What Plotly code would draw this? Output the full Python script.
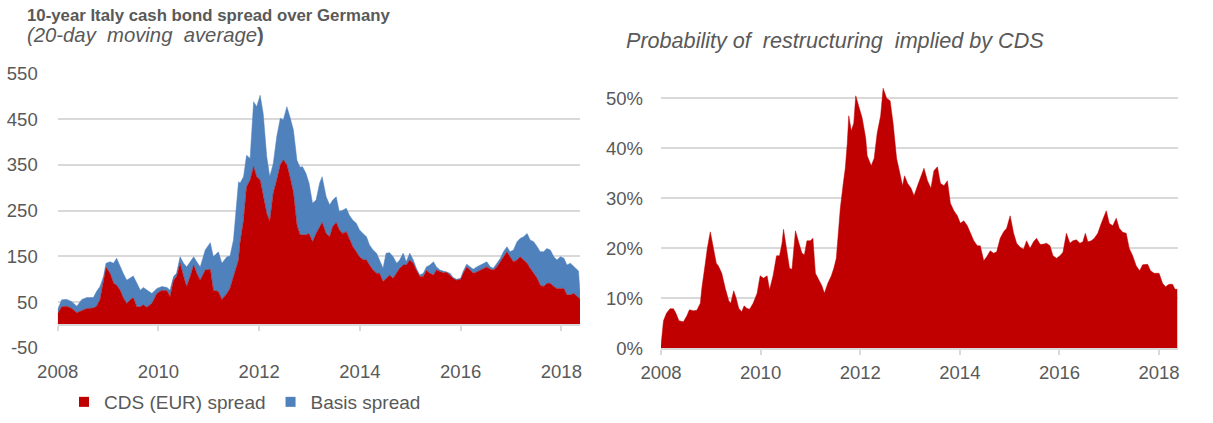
import plotly.graph_objects as go

# ---------------- Data ----------------
spread_years = [
    2008.00, 2008.08, 2008.18, 2008.28, 2008.38, 2008.48, 2008.58, 2008.71, 2008.77, 2008.84,
    2008.91, 2008.96, 2009.04, 2009.11, 2009.17, 2009.24, 2009.30, 2009.37, 2009.44, 2009.50,
    2009.57, 2009.64, 2009.70, 2009.77, 2009.87, 2009.97, 2010.07, 2010.17, 2010.23, 2010.30,
    2010.36, 2010.43, 2010.50, 2010.56, 2010.63, 2010.70, 2010.76, 2010.83, 2010.93, 2011.03,
    2011.09, 2011.19, 2011.26, 2011.36, 2011.42, 2011.49, 2011.59, 2011.62, 2011.69, 2011.75,
    2011.82, 2011.89, 2011.95, 2012.02, 2012.08, 2012.15, 2012.21, 2012.28, 2012.35, 2012.42,
    2012.48, 2012.55, 2012.61, 2012.68, 2012.75, 2012.81, 2012.86, 2012.93, 2012.99, 2013.06,
    2013.13, 2013.20, 2013.25, 2013.33, 2013.40, 2013.46, 2013.53, 2013.59, 2013.66, 2013.73,
    2013.79, 2013.86, 2013.93, 2013.99, 2014.06, 2014.13, 2014.19, 2014.26, 2014.33, 2014.39,
    2014.46, 2014.52, 2014.59, 2014.66, 2014.73, 2014.79, 2014.86, 2014.92, 2014.99, 2015.06,
    2015.12, 2015.19, 2015.26, 2015.32, 2015.39, 2015.46, 2015.52, 2015.59, 2015.65, 2015.72,
    2015.79, 2015.85, 2015.92, 2016.00, 2016.05, 2016.12, 2016.19, 2016.25, 2016.32, 2016.39,
    2016.46, 2016.52, 2016.59, 2016.65, 2016.72, 2016.79, 2016.85, 2016.92, 2016.98, 2017.05,
    2017.12, 2017.18, 2017.25, 2017.32, 2017.38, 2017.45, 2017.52, 2017.58, 2017.65, 2017.71,
    2017.78, 2017.85, 2017.91, 2017.98, 2018.05, 2018.11, 2018.18, 2018.25, 2018.31, 2018.34,
    2018.37,
]
cds_spread = [
    25, 40, 41, 36, 27, 31, 36, 37, 41, 55,
    95, 126, 113, 91, 87, 76, 60, 47, 55, 60,
    40, 40, 44, 39, 47, 69, 76, 75, 62, 98,
    106, 135, 106, 84, 106, 131, 113, 98, 120, 122,
    76, 73, 56, 69, 80, 106, 142, 178, 229, 302,
    317, 346, 324, 317, 280, 244, 226, 288, 317, 350,
    361, 350, 324, 290, 218, 198, 197, 197, 200, 182,
    200, 215, 224, 200, 193, 215, 224, 208, 200, 204,
    189, 171, 160, 149, 143, 142, 131, 120, 113, 113,
    95, 102, 109, 102, 113, 124, 131, 131, 142, 135,
    120, 106, 106, 119, 113, 109, 120, 116, 114, 116,
    109, 102, 98, 100, 113, 127, 120, 113, 116, 120,
    124, 127, 122, 120, 127, 138, 149, 160, 149, 138,
    142, 149, 142, 135, 124, 113, 102, 87, 84, 91,
    91, 84, 80, 80, 80, 66, 66, 69, 62, 60,
    57,
]
basis_spread = [
    9, 15, 15, 15, 14, 25, 24, 23, 32, 29,
    11, 9, 25, 44, 59, 51, 53, 51, 47, 47,
    52, 36, 38, 37, 22, 11, 8, 7, 14, 8,
    7, 14, 29, 43, 32, 18, 25, 29, 44, 58,
    73, 87, 79, 80, 70, 80, 171, 132, 95, 69,
    47, 142, 153, 185, 182, 124, 98, 65, 95, 102,
    87, 127, 131, 136, 142, 147, 149, 134, 110, 84,
    73, 95, 100, 80, 69, 58, 56, 40, 51, 51,
    51, 58, 62, 59, 57, 51, 44, 44, 44, 29,
    29, 55, 49, 47, 22, 18, 26, 7, 15, 7,
    4, 3, 7, 8, 18, 29, 7, 4, 4, 1,
    4, 2, 2, 2, 4, 6, 7, 9, 11, 11,
    11, 11, 5, 4, 8, 8, 11, 11, 11, 26,
    40, 40, 51, 65, 62, 69, 69, 73, 76, 76,
    73, 65, 62, 69, 66, 65, 69, 58, 58, 58,
    15,
]

prob_years = [
    2008.00, 2008.05, 2008.11, 2008.18, 2008.25, 2008.30, 2008.36, 2008.45, 2008.52, 2008.57,
    2008.65, 2008.72, 2008.79, 2008.82, 2008.89, 2008.93, 2008.99, 2009.05, 2009.11, 2009.15,
    2009.22, 2009.29, 2009.36, 2009.40, 2009.46, 2009.51, 2009.56, 2009.62, 2009.67, 2009.72,
    2009.78, 2009.85, 2009.93, 2009.99, 2010.06, 2010.13, 2010.18, 2010.25, 2010.32, 2010.38,
    2010.43, 2010.46, 2010.53, 2010.58, 2010.63, 2010.70, 2010.77, 2010.83, 2010.88, 2010.93,
    2011.00, 2011.05, 2011.10, 2011.17, 2011.23, 2011.28, 2011.35, 2011.42, 2011.47, 2011.52,
    2011.57, 2011.60, 2011.66, 2011.70, 2011.74, 2011.77, 2011.82, 2011.87, 2011.91, 2011.97,
    2012.04, 2012.11, 2012.14, 2012.22, 2012.28, 2012.34, 2012.41, 2012.46, 2012.53, 2012.60,
    2012.66, 2012.73, 2012.78, 2012.85, 2012.89, 2012.95, 2013.02, 2013.08, 2013.15, 2013.22,
    2013.28, 2013.35, 2013.42, 2013.48, 2013.55, 2013.61, 2013.68, 2013.75, 2013.81, 2013.88,
    2013.95, 2014.01, 2014.08, 2014.15, 2014.21, 2014.28, 2014.35, 2014.41, 2014.48, 2014.54,
    2014.61, 2014.68, 2014.74, 2014.81, 2014.88, 2014.94, 2015.01, 2015.08, 2015.14, 2015.21,
    2015.28, 2015.34, 2015.41, 2015.48, 2015.54, 2015.61, 2015.67, 2015.74, 2015.81, 2015.87,
    2015.94, 2016.01, 2016.07, 2016.14, 2016.21, 2016.27, 2016.34, 2016.41, 2016.47, 2016.52,
    2016.57, 2016.64, 2016.70, 2016.77, 2016.84, 2016.90, 2016.94, 2017.00, 2017.07, 2017.14,
    2017.20, 2017.27, 2017.34, 2017.40, 2017.47, 2017.54, 2017.61, 2017.67, 2017.77, 2017.83,
    2017.90, 2018.00, 2018.07, 2018.13, 2018.20, 2018.27, 2018.32, 2018.37,
]
prob_restructuring = [
    0.5, 5.5, 7.0, 7.9, 7.9, 7.0, 5.5, 5.3, 6.5, 7.7,
    7.5, 7.6, 9.0, 12.0, 17.0, 20.0, 23.3, 20.5, 17.0, 16.5,
    15.0, 12.0, 9.5, 9.0, 11.5, 10.0, 8.0, 7.3, 8.5, 8.0,
    7.8, 9.0, 11.0, 14.5, 14.0, 14.5, 11.7, 14.5, 18.5, 18.5,
    21.0, 23.8, 19.0, 16.0, 15.8, 23.5, 21.0, 19.0, 18.7, 21.5,
    21.5, 22.0, 15.0, 13.5, 12.5, 11.0, 13.0, 14.5, 16.0, 18.0,
    24.0, 28.0, 33.0, 36.0, 41.0, 46.5, 43.5, 45.0, 50.5, 48.5,
    46.0, 42.0, 38.5, 36.5, 38.0, 43.0, 46.5, 52.0, 50.0, 49.5,
    45.0, 38.0, 35.5, 32.5, 34.5, 33.0, 32.0, 30.5, 32.5, 34.5,
    36.0, 33.5, 32.0, 35.5, 36.3, 33.0, 32.5, 33.5, 29.0, 27.5,
    26.5, 25.0, 25.5, 24.5, 23.0, 21.5, 20.5, 20.5, 17.5, 18.3,
    19.5, 19.0, 19.3, 22.0, 23.3, 24.0, 26.5, 23.0, 21.0, 20.2,
    19.8, 21.5, 20.0, 21.3, 22.0, 20.8, 20.8, 21.0, 20.5, 18.5,
    18.0, 18.5, 19.2, 23.0, 21.0, 21.5, 21.7, 21.0, 21.3, 23.0,
    21.3, 21.5, 22.0, 23.0, 25.0, 26.7, 27.5, 25.0, 24.5, 26.0,
    24.0, 23.2, 23.0, 20.0, 18.5, 16.5, 15.5, 16.7, 16.8, 15.5,
    15.0, 15.0, 13.0, 12.3, 12.8, 12.8, 11.8, 11.8,
]

year_ticks = [2008, 2010, 2012, 2014, 2016, 2018]
year_labels = ["2008", "2010", "2012", "2014", "2016", "2018"]
spread_ticks = [-50, 50, 150, 250, 350, 450, 550]
spread_labels = ["-50", "50", "150", "250", "350", "450", "550"]
prob_ticks = [0, 10, 20, 30, 40, 50]
prob_labels = ["0%", "10%", "20%", "30%", "40%", "50%"]

# ---------------- Styling ----------------
RED = "#C00000"
BLUE = "#4F81BD"
GREY_TXT = "#595959"
GRID = "#D9D9D9"
FONT = "Liberation Sans, Arial, sans-serif"
W, H = 1213, 423

fig = go.Figure()

fig.add_trace(go.Scatter(
    x=spread_years, y=cds_spread, name="CDS (EUR) spread",
    stackgroup="spread", mode="lines", line=dict(width=0.5, color=RED),
    fillcolor=RED, xaxis="x", yaxis="y", showlegend=False,
))
fig.add_trace(go.Scatter(
    x=spread_years, y=basis_spread, name="Basis spread",
    stackgroup="spread", mode="lines", line=dict(width=0.5, color=BLUE),
    fillcolor=BLUE, xaxis="x", yaxis="y", showlegend=False,
))
fig.add_trace(go.Scatter(
    x=prob_years, y=prob_restructuring, name="Probability of restructuring",
    mode="lines", fill="tozeroy", line=dict(width=0.5, color=RED),
    fillcolor=RED, xaxis="x2", yaxis="y2", showlegend=False,
))
# legend entries
fig.add_trace(go.Scatter(x=[None], y=[None], mode="markers", name="CDS (EUR) spread",
                         marker=dict(symbol="square", size=10, color=RED),
                         xaxis="x", yaxis="y"))
fig.add_trace(go.Scatter(x=[None], y=[None], mode="markers", name="Basis spread",
                         marker=dict(symbol="square", size=10, color=BLUE),
                         xaxis="x", yaxis="y"))

tickfont = dict(family=FONT, size=18.5, color=GREY_TXT)

def py(pix):
    return (H - pix) / H

fig.update_layout(
    template="none",
    width=W, height=H,
    margin=dict(l=0, r=0, t=0, b=0, autoexpand=False),
    paper_bgcolor="white", plot_bgcolor="white",
    font=dict(family=FONT, color=GREY_TXT),
    xaxis=dict(
        domain=[57.7 / W, 580 / W], range=[2008, 2018.37],
        anchor="free", position=py(325), automargin=False,
        showline=True, linecolor=GRID, linewidth=1.5,
        ticks="outside", ticklen=5, tickwidth=1.5, tickcolor=GRID,
        tickvals=year_ticks, ticktext=year_labels, tickfont=tickfont,
        ticklabelstandoff=25,
        showgrid=False, zeroline=False,
    ),
    yaxis=dict(
        domain=[py(348.8), py(72.4)], range=[-52, 552], anchor="x",
        automargin=False,
        tickvals=spread_ticks, ticktext=spread_labels, tickfont=tickfont,
        showgrid=True, gridcolor=GRID, gridwidth=1.5,
        showline=False, zeroline=False, ticks="", ticklabelstandoff=19,
    ),
    xaxis2=dict(
        domain=[661 / W, 1177.5 / W], range=[2008, 2018.37], anchor="y2",
        automargin=False,
        showline=True, linecolor=GRID, linewidth=1.5,
        ticks="outside", ticklen=5, tickwidth=1.5, tickcolor=GRID,
        tickvals=year_ticks, ticktext=year_labels, tickfont=tickfont,
        ticklabelstandoff=2,
        showgrid=False, zeroline=False,
    ),
    yaxis2=dict(
        domain=[py(348.3), py(83.3)], range=[0, 53], anchor="x2",
        automargin=False,
        tickvals=prob_ticks, ticktext=prob_labels, tickfont=tickfont,
        showgrid=True, gridcolor=GRID, gridwidth=1.5,
        showline=False, zeroline=False, ticks="", ticklabelstandoff=17,
    ),
    legend=dict(
        orientation="h", traceorder="normal",
        x=64 / W, xanchor="left", y=py(402), yanchor="middle",
        font=dict(family=FONT, size=19, color=GREY_TXT),
        bgcolor="rgba(0,0,0,0)", itemclick=False,
    ),
    annotations=[
        dict(text="<b>10-year Italy cash bond spread over Germany</b>",
             xref="paper", yref="paper", x=25 / W, y=py(15.5),
             xanchor="left", yanchor="middle", showarrow=False,
             font=dict(family=FONT, size=16.8, color=GREY_TXT)),
        dict(text="<i>(20-day&nbsp; moving&nbsp; average</i><b>)</b>",
             xref="paper", yref="paper", x=25 / W, y=py(35),
             xanchor="left", yanchor="middle", showarrow=False,
             font=dict(family=FONT, size=20.3, color=GREY_TXT)),
        dict(text="<i>Probability of&nbsp; restructuring&nbsp; implied by CDS</i>",
             xref="paper", yref="paper", x=624 / W, y=py(40.3),
             xanchor="left", yanchor="middle", showarrow=False,
             font=dict(family=FONT, size=21.6, color=GREY_TXT)),
    ],
)

fig.write_html("out.html", config={"displayModeBar": False},
               post_script="document.body.style.margin='0';document.body.style.padding='0';")
